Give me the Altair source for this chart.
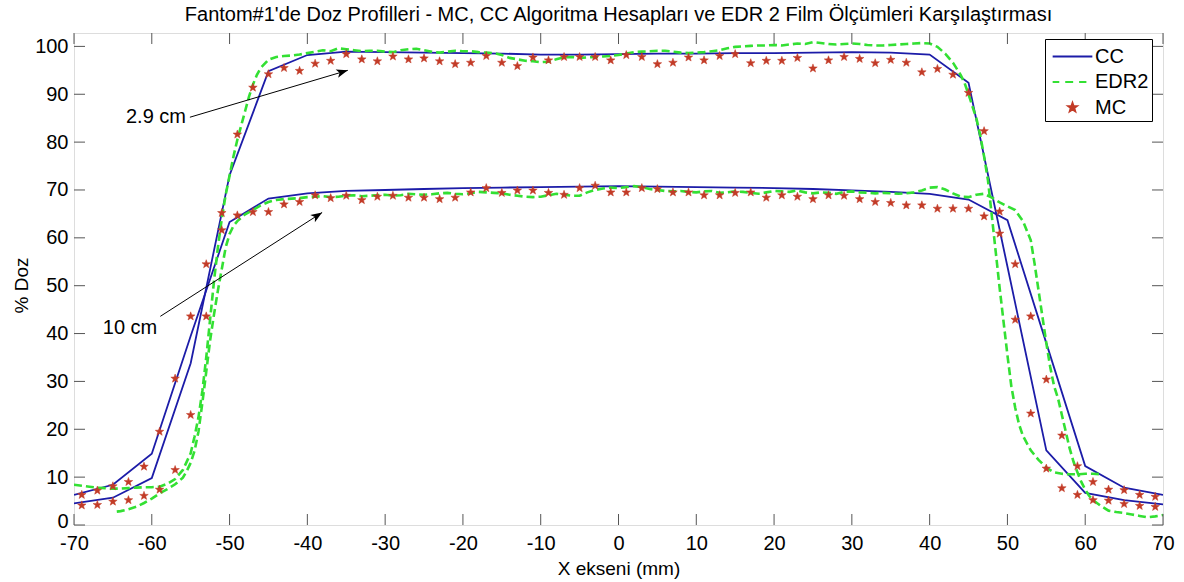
import math
import altair as alt
import pandas as pd

# ---------------- data ----------------
cc_x = [-70, -65, -60, -55, -50, -45, -40, -35, -30, -25, -20, -15, -10, -5, 0,
        5, 10, 15, 20, 25, 30, 35, 40, 45, 50, 55, 60, 65, 70]
cc_29 = [4.5, 5.7, 9.8, 33.8, 73.1, 94.8, 98.2, 98.9, 98.8, 98.7, 98.6, 98.5, 98.3, 98.3, 98.4,
         98.5, 98.5, 98.6, 98.6, 98.7, 98.8, 98.7, 98.3, 92.4, 54.0, 15.6, 6.7, 5.2, 4.3]
cc_10 = [6.3, 8.4, 14.9, 39.5, 63.3, 68.2, 69.3, 69.8, 70.0, 70.2, 70.4, 70.5, 70.6, 70.7, 70.8,
         70.7, 70.6, 70.5, 70.4, 70.2, 69.9, 69.6, 69.2, 68.0, 63.7, 38.0, 12.3, 7.8, 6.3]

edr_29_x = [-70, -69, -68, -67, -66, -65, -64, -63, -62, -61, -60, -59, -58, -57, -56, -55,
            -54.5, -54, -53.5, -53, -52.5, -52, -51.5, -51, -50.5, -50, -49.5, -49, -48.5, -48,
            -47.5, -47, -46.5, -46, -45, -44, -43, -42, -41, -40, -39, -38, -37, -36, -35, -34,
            -33, -32, -31, -30, -29, -28, -27, -26, -25, -24, -23, -22, -21, -20, -19, -18, -17,
            -16, -15, -14, -13, -12, -11, -10, -9, -8, -7, -6, -5, -4, -3, -2, -1, 0, 1, 2, 3,
            4, 5, 6, 7, 8, 9, 10, 11, 12, 13, 14, 15, 16, 17, 18, 19, 20, 21, 22, 23, 24, 25,
            26, 27, 28, 29, 30, 31, 32, 33, 34, 35, 36, 37, 38, 39, 40, 41, 42, 43, 44, 44.5,
            45, 45.5, 46, 46.5, 47, 47.5, 48, 48.5, 49, 49.5, 50, 50.5, 51, 51.5, 52, 53, 54,
            55, 56, 57, 58, 59, 60, 61, 62]
edr_29_y = [8.4, 8.2, 8.0, 7.8, 7.7, 7.6, 7.6, 7.7, 7.8, 7.9, 7.9, 8.0, 8.6, 9.6, 11.5, 15.0,
            18.5, 22.5, 28.0, 35.0, 43.0, 51.0, 58.0, 64.0, 69.0, 73.0, 77.0, 80.5, 83.5, 86.5,
            89.5, 92.0, 94.0, 95.5, 97.2, 97.8, 98.0, 98.1, 98.3, 98.6, 98.9, 99.2, 99.0, 99.6, 99.4, 99.2,
            99.0, 99.1, 99.1, 98.9, 98.8, 99.2, 99.4, 99.5, 99.2, 98.9, 98.7, 98.9, 99.1, 99.0, 99.0, 98.8, 98.7,
            98.6, 98.2, 97.6, 97.3, 97.0, 96.9, 96.7, 96.8, 97.3, 97.7, 97.8, 97.6, 97.7, 97.8, 97.9, 98.0, 98.2, 98.5, 98.8, 98.9,
            99.0, 99.1, 99.1, 98.9, 98.7, 98.6, 98.7, 98.8, 99.0, 99.2, 99.6, 99.9, 100.0, 100.1, 100.2, 100.2, 100.3, 100.2, 100.4, 100.6, 100.5, 100.9,
            100.7, 100.5, 100.4, 100.5, 100.6, 100.5, 100.3, 100.2, 100.2, 100.3, 100.4, 100.5, 100.6, 100.7, 100.6, 99.9, 98.5, 96.6, 94.0, 92.3,
            90.0, 87.5, 85.0, 81.5, 77.0, 72.0, 64.5, 57.0, 49.5, 42.5, 35.5, 29.0, 24.5, 21.0, 18.6, 15.6, 13.6,
            12.0, 11.0, 10.7, 10.6, 10.6, 10.7, 10.7, 10.6]

edr_10_x = [-64.5, -64, -63, -62, -61, -60, -59, -58, -57, -56, -55.5, -55, -54.5, -54, -53.5,
            -53, -52.5, -52, -51.5, -51, -50.5, -50, -49.5, -49, -48, -47, -46, -45, -44, -43,
            -42, -41, -40, -39, -38, -37, -36, -35, -34, -33, -32, -31, -30, -29, -28, -27, -26,
            -25, -24, -23, -22, -21, -20, -19, -18, -17, -16, -15, -14, -13, -12, -11, -10, -9,
            -8, -7, -6, -5, -4, -3, -2, -1, 0, 1, 2, 3, 4, 5, 6, 7, 8, 9, 10, 11, 12, 13, 14, 15,
            16, 17, 18, 19, 20, 21, 22, 23, 24, 25, 26, 27, 28, 29, 30, 31, 32, 33, 34, 35, 36,
            37, 38, 39, 40, 41, 42, 43, 44, 45, 46, 47, 48, 49, 50, 51, 52, 52.5, 53, 53.5, 54,
            54.5, 55, 55.5, 56, 56.5, 57, 57.5, 58, 58.5, 59, 59.5, 60, 60.5, 61, 62, 63, 64, 65,
            66, 67, 68, 69, 70]
edr_10_y = [2.8, 2.9, 3.3, 3.8, 4.6, 5.5, 6.6, 7.5, 8.5, 9.9, 11.3, 13.0, 15.5, 19.5, 25.5,
            32.0, 38.6, 44.0, 49.0, 53.5, 58.0, 60.8, 62.5, 63.5, 64.9, 65.8, 66.8, 67.5, 67.9, 68.1,
            68.2, 68.3, 68.5, 68.6, 68.7, 68.5, 68.6, 68.8, 68.9, 68.7, 68.8, 68.9, 69.0, 68.8, 68.9, 69.2, 69.1,
            69.0, 69.1, 69.3, 69.4, 69.2, 69.1, 69.3, 69.6, 69.5, 69.4, 69.3, 69.0, 68.8, 68.6, 68.5, 68.6, 68.9,
            69.2, 69.0, 68.8, 68.8, 69.5, 70.0, 70.3, 70.5, 70.4, 70.6, 70.8, 70.6, 70.2, 70.0, 69.8, 69.7, 69.8, 69.6, 69.5, 69.7, 69.8, 69.4, 69.5, 69.7,
            69.6, 69.4, 69.2, 69.5, 69.8, 69.7, 69.6, 69.9, 69.5, 69.3, 69.5, 69.4, 69.2, 69.6, 69.7, 69.5, 69.4, 69.3, 69.4, 69.3, 69.2,
            69.3, 69.5, 69.9, 70.5, 70.6, 70.1, 69.3, 68.6, 68.5, 69.0, 69.2, 68.4, 67.4, 66.6, 65.8, 63.5, 61.5, 59.5, 54.5, 49.0,
            43.5, 38.0, 33.0, 29.0, 26.5, 23.0, 19.5, 16.0, 13.2, 11.0, 9.0, 7.4, 6.1, 5.2, 4.0, 3.0, 2.7, 2.5,
            2.2, 1.9, 1.6, 1.8, 2.1]

mc_x = [-69, -67, -65, -63, -61, -59, -57, -55, -53, -51, -49, -47, -45, -43, -41, -39,
        -37, -35, -33, -31, -29, -27, -25, -23, -21, -19, -17, -15, -13, -11, -9, -7, -5, -3, -1,
        1, 3, 5, 7, 9, 11, 13, 15, 17, 19, 21, 23, 25, 27, 29,
        31, 33, 35, 37, 39, 41, 43, 45, 47, 49, 51, 53, 55, 57, 59, 61, 63, 65, 67, 69]
mc_29 = [4.1, 4.2, 4.9, 5.2, 6.1, 7.4, 11.5, 23.0, 43.6, 65.2, 81.6, 91.4, 94.2, 95.5, 94.9, 96.4,
         97.0, 98.4, 97.3, 96.9, 97.9, 97.3, 97.5, 96.9, 96.3, 96.6, 98.0, 96.6, 95.9, 97.7, 97.1, 97.8, 97.8, 97.8, 97.1,
         98.2, 97.8, 96.3, 96.6, 97.7, 97.1, 98.0, 98.4, 96.5, 97.0, 97.0, 97.6, 95.4, 97.1, 97.8,
         97.4, 96.5, 97.2, 96.6, 94.6, 95.3, 94.1, 90.3, 82.3, 60.9, 42.9, 23.3, 11.8, 7.7, 6.3, 5.2, 5.1, 4.4, 4.0, 3.8]
mc_10 = [6.3, 7.2, 8.1, 9.0, 12.2, 19.5, 30.6, 43.6, 54.5, 61.6, 64.7, 65.4, 65.4, 67.0, 67.5, 68.9,
         68.3, 68.8, 67.9, 68.6, 68.8, 68.4, 68.4, 68.1, 68.4, 69.5, 70.4, 69.4, 69.9, 69.9, 69.4, 69.0, 70.4, 70.9, 69.5,
         69.5, 70.4, 70.2, 69.5, 69.5, 68.9, 68.9, 69.4, 69.5, 68.4, 68.9, 68.6, 68.1, 68.9, 68.8,
         68.1, 67.5, 67.3, 66.8, 66.8, 66.1, 66.1, 66.1, 64.5, 65.5, 54.5, 43.6, 30.4, 18.7, 12.3, 9.0, 7.4, 7.3, 6.3, 5.9]

ann_text = ["2.9 cm", "10 cm"]
ann_tx = [-55.6, -59.3]
ann_ty = [85.2, 41.1]
arr_x0 = [-55.1, -58.9]
arr_y0 = [85.2, 43.6]
arr_x1 = [-34.8, -38.1]
arr_y1 = [95.0, 65.3]

x_ticks = [-70, -60, -50, -40, -30, -20, -10, 0, 10, 20, 30, 40, 50, 60, 70]
y_ticks = [0, 10, 20, 30, 40, 50, 60, 70, 80, 90, 100]

names = ["CC", "EDR2", "MC"]
colors = ["#1c1ca8", "#33e033", "#c23b27"]

title_text = "Fantom#1'de Doz Profilleri - MC, CC Algoritma Hesapları ve EDR 2 Film Ölçümleri Karşılaştırması"

# ---------------- layout ----------------
W, H = 1089, 492
XMIN, XMAX, YMIN, YMAX = -70, 70, 0, 102.8
FONT = "Liberation Sans"
TICK = 11
frame_color = "#707070"

xs = alt.Scale(domain=[XMIN, XMAX], nice=False, zero=False)
ys = alt.Scale(domain=[YMIN, YMAX], nice=False, zero=False)

cc_df = pd.concat([
    pd.DataFrame({"x": cc_x, "y": cc_29, "d": "2.9"}),
    pd.DataFrame({"x": cc_x, "y": cc_10, "d": "10"}),
])
edr_df = pd.concat([
    pd.DataFrame({"x": edr_29_x, "y": edr_29_y, "d": "2.9"}),
    pd.DataFrame({"x": edr_10_x, "y": edr_10_y, "d": "10"}),
])
mc_df = pd.concat([
    pd.DataFrame({"x": mc_x, "y": mc_29, "series": "MC"}),
    pd.DataFrame({"x": mc_x, "y": mc_10, "series": "MC"}),
])

xaxis = alt.Axis(values=x_ticks, title="X ekseni (mm)", domain=False, ticks=False, grid=False,
                 labelFontSize=20, labelFont=FONT, labelColor="#000", labelPadding=8,
                 labelExpr="datum.value + ''",
                 titleFont=FONT, titleFontSize=19, titleFontWeight="normal", titleColor="#000",
                 titleY=49, titleBaseline="alphabetic", labelFlush=False)
yaxis = alt.Axis(values=y_ticks, title="% Doz", domain=False, ticks=False, grid=False,
                 labelFontSize=20, labelFont=FONT, labelColor="#000", labelPadding=6,
                 labelOffset=alt.condition("datum.value == 0", alt.value(-4), alt.value(0)),
                 titleFont=FONT, titleFontSize=19, titleFontWeight="normal", titleColor="#000",
                 titleX=-47, titleY=252, titleBaseline="alphabetic", labelFlush=False)


def X(field):
    return alt.X(field, scale=xs, axis=xaxis)


def Y(field):
    return alt.Y(field, scale=ys, axis=yaxis)


cc = alt.Chart(cc_df).mark_line(color=colors[0], strokeWidth=1.8, clip=True).encode(
    x=X("x:Q"), y=Y("y:Q"), detail="d:N", order="x:Q")
edr = alt.Chart(edr_df).mark_line(color=colors[1], strokeWidth=2.6, strokeDash=[8, 4], clip=True).encode(
    x=X("x:Q"), y=Y("y:Q"), detail="d:N", order="x:Q")


def star(R, r):
    pts = []
    for i in range(10):
        rad = R if i % 2 == 0 else r
        a = -math.pi / 2 + i * math.pi / 5
        pts.append(f"{rad * math.cos(a):.3f},{rad * math.sin(a):.3f}")
    return "M" + "L".join(pts) + "Z"


line_path = "M-1.5,0L1.5,0"
dash_path = "M-1.5,0L-1.0,0M-0.55,0L0.05,0M0.5,0L1.05,0"
star_path = star(0.34, 0.14)

leg = alt.Legend(title=None, orient="none", legendX=971, legendY=6,
                 strokeColor="#000", fillColor="#fff", padding=3, rowPadding=0.5,
                 labelFont=FONT, labelFontSize=20, labelColor="#000", labelOffset=8,
                 symbolSize=700, symbolStrokeWidth=2, symbolOffset=10, cornerRadius=0)

mc = alt.Chart(mc_df).mark_point(filled=True, opacity=1, size=700, strokeWidth=0.5, clip=True).encode(
    x=X("x:Q"), y=Y("y:Q"),
    fill=alt.Fill("series:N", scale=alt.Scale(domain=names, range=colors), legend=leg),
    stroke=alt.Stroke("series:N", scale=alt.Scale(domain=names, range=colors), legend=leg),
    shape=alt.Shape("series:N", scale=alt.Scale(domain=names, range=[line_path, dash_path, star_path]), legend=leg),
)

# annotations
ann_df = pd.DataFrame({"t": ann_text, "x": ann_tx, "y": ann_ty})
arr_df = pd.DataFrame({"x0": arr_x0, "y0": arr_y0, "x1": arr_x1, "y1": arr_y1})
px_x = W / (XMAX - XMIN)
px_y = H / (YMAX - YMIN)
arr_df["ang"] = [
    (math.degrees(math.atan2(-(b1 - b0) * px_y, (a1 - a0) * px_x)) + 360) % 360
    for a0, b0, a1, b1 in zip(arr_x0, arr_y0, arr_x1, arr_y1)
]

ann = alt.Chart(ann_df).mark_text(align="right", baseline="middle", font=FONT, fontSize=20, color="#000").encode(
    x=X("x:Q"), y=Y("y:Q"), text="t:N")
arr_line = alt.Chart(arr_df).mark_rule(color="#000", strokeWidth=1).encode(
    x=X("x0:Q"), y=Y("y0:Q"), x2="x1:Q", y2="y1:Q")
arr_head = alt.Chart(arr_df).mark_point(
    shape="M0,0L-1,-0.38L-0.75,0L-1,0.38Z", filled=True, color="#000", size=520, opacity=1).encode(
    x=X("x1:Q"), y=Y("y1:Q"), angle=alt.Angle("ang:Q", scale=None))

# inward ticks on all four sides
xt = pd.DataFrame({"v": x_ticks})
yt = pd.DataFrame({"v": y_ticks})
tc = "#555555"
t_bot = alt.Chart(xt).mark_rule(color=tc, strokeWidth=1).encode(
    x=X("v:Q"), y=alt.value(H), y2=alt.value(H - TICK))
t_top = alt.Chart(xt).mark_rule(color=tc, strokeWidth=1).encode(
    x=X("v:Q"), y=alt.value(0), y2=alt.value(TICK))
t_left = alt.Chart(yt).mark_rule(color=tc, strokeWidth=1).encode(
    y=Y("v:Q"), x=alt.value(0), x2=alt.value(TICK))
t_right = alt.Chart(yt).mark_rule(color=tc, strokeWidth=1).encode(
    y=Y("v:Q"), x=alt.value(W), x2=alt.value(W - TICK))

chart = alt.layer(cc, edr, mc, ann, arr_line, arr_head, t_bot, t_top, t_left, t_right).properties(
    width=W, height=H,
    title=alt.TitleParams(title_text, font=FONT, fontSize=20, fontWeight="normal", color="#000",
                          anchor="middle", offset=8),
    autosize=alt.AutoSizeParams(type="none"),
    padding={"left": 74, "top": 33, "right": 21, "bottom": 57},
).configure_view(stroke=frame_color, strokeWidth=1.2).configure(background="white")

chart.save("out.html", embed_options={"renderer": "svg", "actions": False})
